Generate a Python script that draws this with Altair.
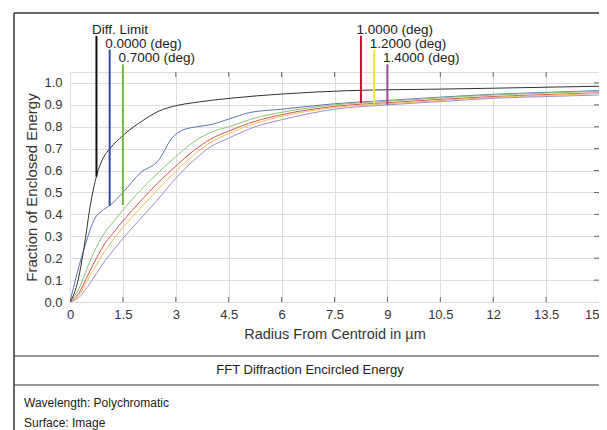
import altair as alt
import pandas as pd

# ---------------- data ----------------
series = ["Diff. Limit", "0.0000 (deg)", "0.7000 (deg)", "1.0000 (deg)", "1.2000 (deg)", "1.4000 (deg)"]

x_diff = [0, 0.2, 0.4, 0.57, 0.76, 0.95, 1.13, 1.5, 2.08, 2.5, 3.0, 3.5, 4.54, 6.05, 7.94, 10.5, 12, 15]
y_diff = [0, 0.08, 0.25, 0.436, 0.58, 0.66, 0.70, 0.76, 0.83, 0.87, 0.896, 0.91, 0.93, 0.95, 0.965, 0.972, 0.976, 0.985]

x_f0 = [0, 0.2, 0.45, 0.7, 0.9, 1.125, 1.5, 2.0, 2.5, 2.9, 3.2, 3.6, 4.0, 4.5, 5.1, 6.0, 7.5, 9.0, 10.5, 12.0, 13.5, 15.0]
y_f0 = [0, 0.13, 0.27, 0.38, 0.415, 0.44, 0.50, 0.59, 0.645, 0.75, 0.785, 0.80, 0.81, 0.835, 0.865, 0.88, 0.905, 0.92, 0.935, 0.948, 0.957, 0.965]

x_fld = [0, 0.25, 0.5, 0.75, 1.0, 1.25, 1.5, 2.0, 2.5, 3.0, 3.5, 4.0, 4.5, 5.25, 6.0, 7.5, 9.0, 10.5, 12.0, 13.5, 15.0]
y_f07 = [0, 0.06, 0.16, 0.25, 0.32, 0.37, 0.42, 0.51, 0.59, 0.664, 0.73, 0.775, 0.80, 0.84, 0.866, 0.90, 0.917, 0.932, 0.945, 0.954, 0.962]
y_f10 = [0, 0.04, 0.12, 0.20, 0.27, 0.32, 0.37, 0.46, 0.545, 0.62, 0.69, 0.745, 0.78, 0.825, 0.855, 0.893, 0.91, 0.925, 0.938, 0.947, 0.955]
y_f12 = [0, 0.03, 0.10, 0.17, 0.235, 0.29, 0.34, 0.43, 0.515, 0.596, 0.67, 0.73, 0.768, 0.815, 0.847, 0.888, 0.905, 0.92, 0.934, 0.943, 0.952]
y_f14 = [0, 0.02, 0.07, 0.13, 0.19, 0.24, 0.29, 0.38, 0.47, 0.565, 0.645, 0.71, 0.748, 0.80, 0.832, 0.88, 0.90, 0.915, 0.93, 0.938, 0.945]

# legend markers (x position, bottom, top in data units)
marker_x = [0.75, 1.125, 1.5, 8.25, 8.625, 9.0]
marker_bottom = [0.573, 0.439, 0.443, 0.908, 0.904, 0.90]
marker_top = [1.215, 1.152, 1.085, 1.215, 1.152, 1.085]

x_ticks = [0, 1.5, 3, 4.5, 6, 7.5, 9, 10.5, 12, 13.5, 15]
y_ticks = [0, 0.1, 0.2, 0.3, 0.4, 0.5, 0.6, 0.7, 0.8, 0.9, 1.0]

title_text = "FFT Diffraction Encircled Energy"
info_lines = ["Wavelength: Polychromatic", "Surface: Image"]

# ---------------- styles ----------------
line_colors = ["#333333", "#5b74b8", "#8cc476", "#d9534f", "#e8c25a", "#a58ac8"]
marker_colors = ["#111111", "#2c49a0", "#72b843", "#c8102e", "#f2e432", "#a2449e"]
FONT = "Liberation Sans"

# ---------------- build tables ----------------
rows = []
for name, xs, ys in [
    (series[1], x_f0, y_f0),
    (series[2], x_fld, y_f07),
    (series[3], x_fld, y_f10),
    (series[4], x_fld, y_f12),
    (series[5], x_fld, y_f14),
    (series[0], x_diff, y_diff),
]:
    for i, (a, b) in enumerate(zip(xs, ys)):
        rows.append({"series": name, "r": a, "e": b, "i": i})
curves = pd.DataFrame(rows)

markers = pd.DataFrame({"label": series, "x": marker_x, "b": marker_bottom, "t": marker_top})
xt = pd.DataFrame({"v": x_ticks[1:-1]})
yt = pd.DataFrame({"v": y_ticks[1:]})

xscale = alt.Scale(domain=[0, 15], nice=False, zero=False)
yscale = alt.Scale(domain=[0, 1.05], nice=False)

xaxis = alt.Axis(
    values=x_ticks, format=".3~g", title="Radius From Centroid in µm", grid=True, ticks=False,
    domain=False, labelFontSize=13, labelColor="#333333", labelPadding=6, titleFontSize=14.5,
    titleFontWeight="normal", titleColor="#333333", titlePadding=6, gridColor="#dddddd",
    labelFlush=False, labelOverlap=False,
    labelAlign=alt.ExprRef(expr="datum.value >= 15 ? 'right' : 'center'"))
yaxis = alt.Axis(
    values=y_ticks, format=".1f", title="Fraction of Enclosed Energy", grid=True, ticks=False,
    domain=False, labelFontSize=13, labelColor="#333333", labelPadding=8, titleFontSize=15,
    titleFontWeight="normal", titleColor="#333333", titlePadding=4, gridColor="#dddddd",
    labelOverlap=False)


def X(field):
    return alt.X(field, scale=xscale, axis=xaxis)


def Y(field):
    return alt.Y(field, scale=yscale, axis=yaxis)


lines = alt.Chart(curves).mark_line(strokeWidth=1, interpolate="monotone", clip=True).encode(
    x=X("r:Q"), y=Y("e:Q"),
    color=alt.Color("series:N", scale=alt.Scale(domain=series, range=line_colors), legend=None),
    order="i:Q",
)

top_ticks = alt.Chart(xt).mark_rule(color="#666666", strokeWidth=1).encode(
    x=X("v:Q"), y=alt.value(0), y2=alt.value(5))
bot_ticks = alt.Chart(xt).mark_rule(color="#666666", strokeWidth=1).encode(
    x=X("v:Q"), y=alt.value(230), y2=alt.value(225))
right_ticks = alt.Chart(yt).mark_rule(color="#666666", strokeWidth=1).encode(
    y=Y("v:Q"), x=alt.value(529), x2=alt.value(524))

mk = alt.Chart(markers).mark_rule(strokeWidth=2, clip=False).encode(
    x=X("x:Q"), y=Y("b:Q"), y2="t:Q",
    color=alt.Color("label:N", scale=alt.Scale(domain=series, range=marker_colors), legend=None),
)
mk_text = alt.Chart(markers).mark_text(
    align="left", baseline="alphabetic", dx=-4.5, dy=-2, fontSize=13.5, font=FONT,
    color="#222222", clip=False).encode(
    x=X("x:Q"), y=Y("t:Q"), text="label:N")

one = pd.DataFrame({"k": [0]})
frame_col = "#333333"
frame_top = alt.Chart(one).mark_rule(color=frame_col, strokeWidth=1.5).encode(
    x=alt.value(-56), x2=alt.value(545), y=alt.value(-59))
frame_left = alt.Chart(one).mark_rule(color=frame_col, strokeWidth=1.5).encode(
    x=alt.value(-56), y=alt.value(-59), y2=alt.value(400))
div1 = alt.Chart(one).mark_rule(color=frame_col, strokeWidth=1.2).encode(
    x=alt.value(-56), x2=alt.value(545), y=alt.value(284))
div2 = alt.Chart(one).mark_rule(color=frame_col, strokeWidth=1.2).encode(
    x=alt.value(-56), x2=alt.value(545), y=alt.value(313))

title_mark = alt.Chart(one).mark_text(
    align="center", baseline="middle", fontSize=13, font=FONT, color="#222222").encode(
    x=alt.value(240), y=alt.value(298), text=alt.value(title_text))
info1 = alt.Chart(one).mark_text(
    align="left", baseline="middle", fontSize=12, font=FONT, color="#222222").encode(
    x=alt.value(-46), y=alt.value(331), text=alt.value(info_lines[0]))
info2 = alt.Chart(one).mark_text(
    align="left", baseline="middle", fontSize=12, font=FONT, color="#222222").encode(
    x=alt.value(-46), y=alt.value(351), text=alt.value(info_lines[1]))

chart = alt.layer(
    lines, top_ticks, bot_ticks, right_ticks, mk, mk_text,
    frame_top, frame_left, div1, div2, title_mark, info1, info2,
).resolve_scale(color="independent").properties(
    width=529, height=230,
    padding={"left": 62, "top": 64, "right": 0, "bottom": 128},
    autosize=alt.AutoSizeParams(type="none"),
    background="white",
).configure_view(stroke="#999999", strokeWidth=1).configure(font=FONT)

chart.save("out.html", embed_options={"renderer": "svg", "actions": False})
